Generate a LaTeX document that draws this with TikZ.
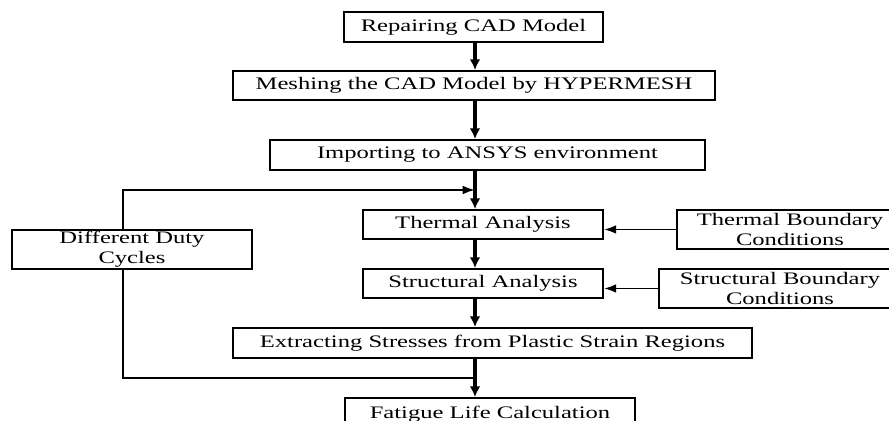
\documentclass[tikz,border=0pt]{standalone}
\usepackage{fontspec}
\setmainfont[FakeStretch=1.4]{Liberation Serif}
\usepackage{tikz}
\usetikzlibrary{arrows, arrows.meta, positioning, calc}
\tikzstyle{stepbox}=[draw, line width=1.1pt, inner sep=0pt, align=center, font=\fontsize{10}{11.5}\selectfont]
\tikzstyle{mainflow}=[line width=1.8pt, -{Latex[length=6pt,width=6pt]}]
\tikzstyle{loopline}=[line width=1.1pt]

\begin{document}
\begin{tikzpicture}[x=0.02cm, y=-0.02cm]
    \useasboundingbox (0,0) rectangle (889,421);

    \node (repair)[stepbox, minimum width=5.18cm, minimum height=0.6cm] at (473.5, 27) {Repairing CAD Model};
    \node (mesh)[stepbox, minimum width=9.64cm, minimum height=0.58cm] at (474, 85.5) {Meshing the CAD Model by HYPERMESH};
    \node (import)[stepbox, minimum width=8.7cm, minimum height=0.6cm] at (487.5, 155) {Importing to ANSYS environment};
    \node (thermal)[stepbox, minimum width=4.8cm, minimum height=0.58cm] at (483, 224.5) {Thermal Analysis};
    \node (tbc)[stepbox, minimum width=4.52cm, minimum height=0.78cm] at (790, 229.5) {Thermal Boundary\\Conditions};
    \node (duty)[stepbox, minimum width=4.8cm, minimum height=0.78cm] at (132, 249.5) {Different Duty\\Cycles};
    \node (struct)[stepbox, minimum width=4.8cm, minimum height=0.58cm] at (483, 283.5) {Structural Analysis};
    \node (sbc)[stepbox, minimum width=4.84cm, minimum height=0.78cm] at (780, 288.5) {Structural Boundary\\Conditions};
    \node (extract)[stepbox, minimum width=10.38cm, minimum height=0.6cm] at (492.5, 343) {Extracting Stresses from Plastic Strain Regions};
    \node (fatigue)[stepbox, minimum width=5.8cm, minimum height=0.64cm] at (490, 414) {Fatigue Life Calculation};

    % main line and loop corners
    \coordinate (spine) at (475, 0);
    \coordinate (loopTop) at (475, 190);
    \coordinate (loopBot) at (475, 378);
    \coordinate (dutyX) at (123, 0);

    \draw[mainflow] (repair.south -| spine) -- (mesh.north -| spine);
    \draw[mainflow] (mesh.south -| spine) -- (import.north -| spine);
    \draw[mainflow] (import.south -| spine) -- (thermal.north -| spine);
    \draw[mainflow] (thermal.south -| spine) -- (struct.north -| spine);
    \draw[mainflow] (struct.south -| spine) -- (extract.north -| spine);
    \draw[mainflow] (extract.south -| spine) -- (fatigue.north -| spine);

    \draw[loopline, -{Latex[length=7pt,width=5pt]}] (duty.north -| dutyX) |- (loopTop);
    \draw[loopline] (duty.south -| dutyX) |- (loopBot);

    \draw[loopline, -{Latex[length=7pt,width=5pt]}] (tbc.west) -- (tbc.west -| thermal.east);
    \draw[loopline, -{Latex[length=7pt,width=5pt]}] (sbc.west) -- (sbc.west -| struct.east);

\end{tikzpicture}
\end{document}
